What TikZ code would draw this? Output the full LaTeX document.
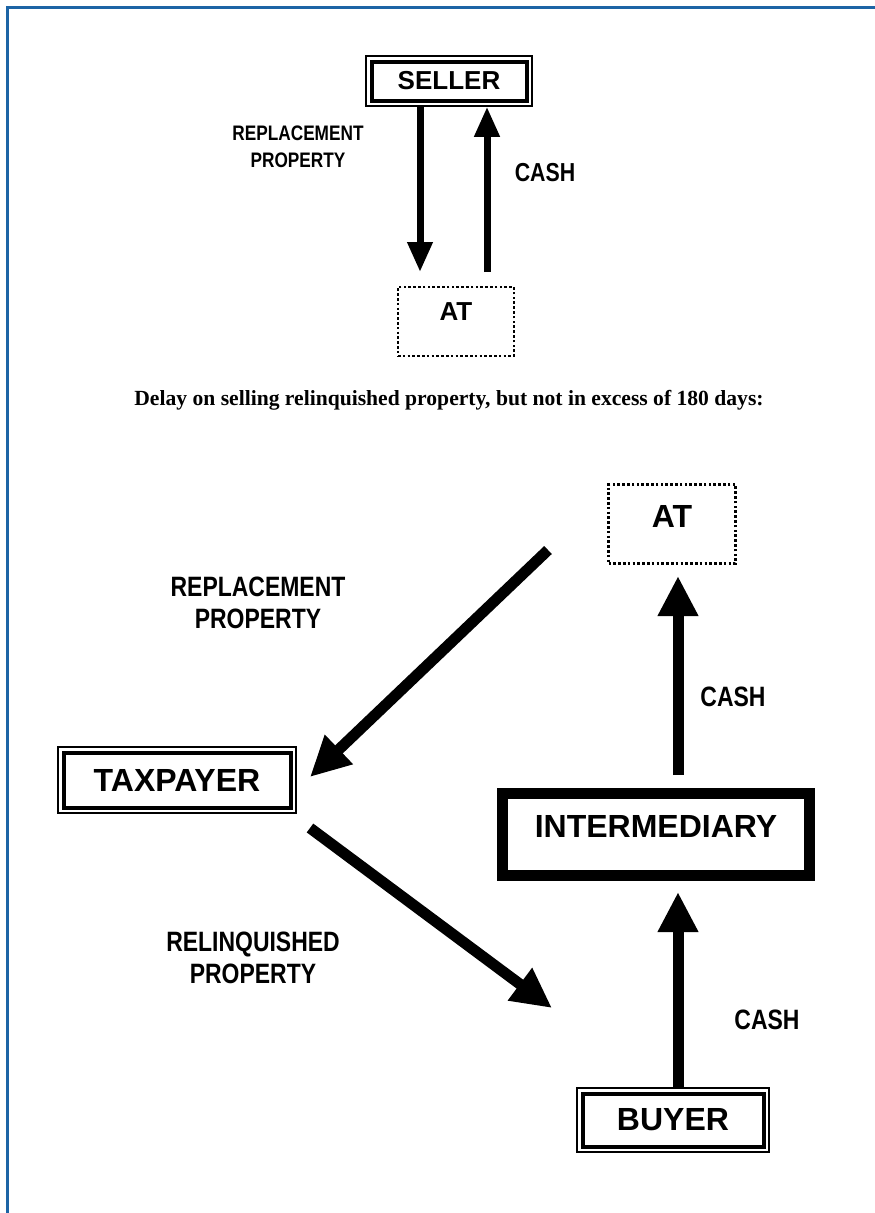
\documentclass[tikz,border=0pt]{standalone}
\usepackage{fontspec}
\setmainfont{Liberation Serif}
\setsansfont{Liberation Sans}
\newfontfamily\narrowsf[FakeStretch=0.82]{Liberation Sans}
\usetikzlibrary{arrows.meta,positioning,calc}
\definecolor{FrameBlue}{RGB}{28,100,165}

\begin{document}
\begin{tikzpicture}[x=1pt,y=-1pt,
    dBox/.style={draw,line width=1.5pt,fill=white,inner sep=0pt,
                 font=\fontsize{32}{36}\selectfont\sffamily\bfseries,
                 path picture={\draw[line width=4pt]
                   ([xshift=5.5pt,yshift=-5.5pt]path picture bounding box.north west) rectangle
                   ([xshift=-5.5pt,yshift=5.5pt]path picture bounding box.south east);}},
    aBox/.style={draw,line width=2.6pt,dash pattern=on 2.6pt off 2.2pt,inner sep=0pt,
                 font=\fontsize{32}{36}\selectfont\sffamily\bfseries},
    iBox/.style={draw,line width=11pt,inner sep=0pt,
                 font=\fontsize{32}{36}\selectfont\sffamily\bfseries},
    lab/.style={font=\narrowsf\bfseries\fontsize{28}{32}\selectfont,align=center},
    ar/.style={-{Triangle[width=24pt,length=30pt]},line width=7pt},
    arB/.style={-{Triangle[width=38pt,length=40pt]},line width=11pt}
  ]
    \useasboundingbox (0,0) rectangle (875,1213);

    % Page frame (left and top only)
    \draw[FrameBlue,line width=3pt] (7,1213) -- (7,7.5) -- (875,7.5);

    % Top: seller and accommodator
    \node(seller)[dBox,minimum width=166pt,minimum height=50pt,
                  font=\fontsize{26}{30}\selectfont\sffamily\bfseries] at (449,81) {SELLER};
    \node(at1)[aBox,minimum width=116pt,minimum height=69pt,text depth=20pt,
               font=\fontsize{26}{30}\selectfont\sffamily\bfseries] at (456,321.5) {AT};

    \coordinate (dn) at (420,272);
    \coordinate (up) at (487,272);
    \draw[ar] (seller.south -| dn) -- (dn);
    \draw[ar] (up) -- (seller.south -| up);

    \node(rp1)[lab,font=\narrowsf\bfseries\fontsize{21}{27}\selectfont] at (298,147) {REPLACEMENT\\PROPERTY};
    \node(cash1)[lab,font=\narrowsf\bfseries\fontsize{26}{30}\selectfont] at (545,173) {CASH};

    % Heading of the second case
    \node(title)[font=\fontsize{21.6}{26}\selectfont\bfseries] at (449,400)
      {Delay on selling relinquished property, but not in excess of 180 days:};

    % Bottom: taxpayer, intermediary, buyer
    \node(at2)[aBox,minimum width=127pt,minimum height=79pt,text depth=16pt] at (672,524) {AT};
    \node(taxpayer)[dBox,minimum width=238pt,minimum height=66pt] at (177,780) {TAXPAYER};
    \node(interm)[iBox,minimum width=307pt,minimum height=82pt,text depth=16pt] at (656,834) {INTERMEDIARY};
    \node(buyer)[dBox,minimum width=192pt,minimum height=64pt] at (673,1120) {BUYER};

    \coordinate (rpA) at (548,550);
    \coordinate (rpB) at (310,777);
    \draw[arB] (rpA) -- (rpB);

    \coordinate (caA) at (678,775);
    \coordinate (caB) at (678,576);
    \draw[arB] (caA) -- (caB);

    \coordinate (rlA) at (310,828);
    \coordinate (rlB) at (552,1008);
    \draw[arB] (rlA) -- (rlB);

    \coordinate (cbB) at (678,892);
    \draw[arB] (buyer.north -| cbB) -- (cbB);

    \node(rp2)[lab] at (258,603) {REPLACEMENT\\PROPERTY};
    \node(cash2)[lab] at (733,697) {CASH};
    \node(rl)[lab] at (253,958) {RELINQUISHED\\PROPERTY};
    \node(cash3)[lab] at (767,1020) {CASH};
\end{tikzpicture}
\end{document}
